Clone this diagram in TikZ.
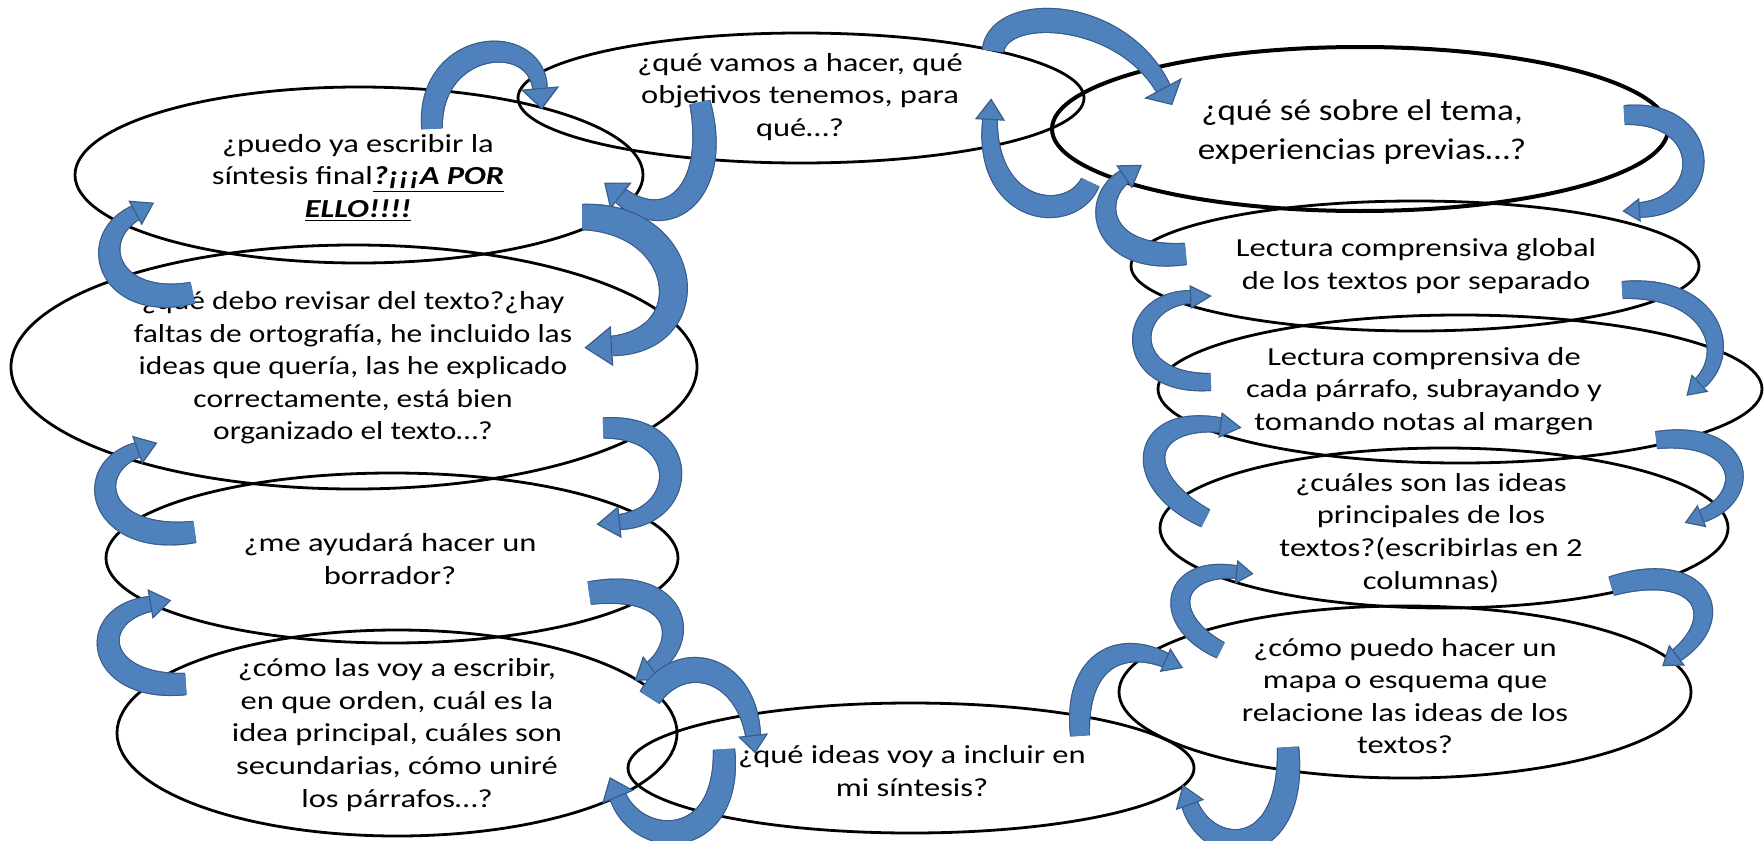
\documentclass[tikz,border=0pt]{standalone}
\usepackage{fontspec}
\setmainfont{Carlito}
\newfontfamily\wideA{Carlito}[FakeStretch=1.25]
\newfontfamily\wideB{Carlito}[FakeStretch=1.21]
\newfontfamily\wideC{Carlito}[FakeStretch=1.17]
\usetikzlibrary{shapes.geometric,calc,decorations.markings}
\definecolor{arrowfill}{HTML}{4F81BD}
\definecolor{arrowline}{HTML}{385D8A}

\tikzset{
  oval/.style 2 args={draw=black, line width=1.4pt, shape=ellipse, inner sep=0pt,
    minimum width=#1pt, minimum height=#2pt},
  txt/.style={align=center, font=\wideA\fontsize{13}{16.3}\selectfont, inner sep=0pt},
  midtxt/.style={align=center, font=\wideB\fontsize{13}{16.3}\selectfont, inner sep=0pt},
  bigtxt/.style={align=center, font=\wideC\fontsize{15}{19.7}\selectfont, inner sep=0pt},
  % one pass of a band along the path, tapering from tail to end and swelling
  % in the middle: colour, tail half-width, end half-width, extra on the rim (pt)
  shaftpass/.style n args={4}{
    postaction={decorate, decoration={markings, reset marks,
      mark=between positions 0 and 1 step 0.45pt with {%
        \pgfmathsetmacro\pos{(\pgfkeysvalueof{/pgf/decoration/mark info/distance from start})/(\pgfdecoratedpathlength)}%
        \pgfmathsetmacro\hw{((#2)+((#3)-(#2))*\pos)*(1+0.3*sin(180*\pos))+(#4)}%
        \fill[#1] (-0.45pt,-\hw pt) rectangle (0.45pt,\hw pt);}}}},
  % curved block arrow body: tail half-width, end half-width (pt)
  bent/.style 2 args={
    shaftpass={arrowline}{#1}{#2}{0.6},
    shaftpass={arrowfill}{#1}{#2}{0}},
  % arrow head sitting on the end of the curve: base width, length (pt)
  headtip/.style 2 args={shape=isosceles triangle, isosceles triangle stretches,
    fill=arrowfill, draw=arrowline, line width=0.6pt, line join=miter, inner sep=0pt,
    minimum width=#1pt, minimum height=#2pt,
    pos=1, sloped, allow upside down, anchor=west}
}

\begin{document}
\begin{tikzpicture}[x=0.5pt, y=-0.5pt]
\useasboundingbox (0,0) rectangle (1764,840);

% ---- ellipses ----
\node[oval={283}{65}] (e1) at (801,98) {};
\node[oval={308}{82}, line width=2pt] (e2) at (1360,129) {};
\node[oval={284}{88}] (e3) at (359,175) {};
\node[oval={343}{122}] (e4) at (354,367) {};
\node[oval={286}{85}] (e5) at (392,558) {};
\node[oval={280}{103}] (e6) at (397,733) {};
\node[oval={283}{65}] (e7) at (911,768) {};
\node[oval={284}{65}] (e8) at (1415,266) {};
\node[oval={302}{74}] (e9) at (1460,389) {};
\node[oval={284}{80}] (e10) at (1444,528) {};
\node[oval={286}{86}] (e11) at (1405,692) {};

% ---- texts ----
\node[txt] (t1) at ($(e1.center)+(-1,-1)$) {¿qué vamos a hacer, qué\\objetivos tenemos, para\\qué…?};
\node[bigtxt] (t2) at ($(e2.center)+(2,3)$) {¿qué sé sobre el tema,\\experiencias previas…?};
\node[txt] (t3) at ($(e3.center)+(-1,3)$) {¿puedo ya escribir la\\síntesis final\underline{\textbf{\textit{?¡¡¡A POR}}}\\\underline{\textbf{\textit{ELLO!!!!}}}};
\node[midtxt] (t4) at ($(e4.center)+(-1,1)$) {¿qué debo revisar del texto?¿hay\\faltas de ortografía, he incluido las\\ideas que quería, las he explicado\\correctamente, está bien\\organizado el texto…?};
\node[txt] (t5) at ($(e5.center)+(-2,1)$) {¿me ayudará hacer un\\borrador?};
\node[txt] (t6) at ($(e6.center)+(0,2)$) {¿cómo las voy a escribir,\\en que orden, cuál es la\\idea principal, cuáles son\\secundarias, cómo uniré\\los párrafos…?};
\node[txt] (t7) at ($(e7.center)+(1,3)$) {¿qué ideas voy a incluir en\\mi síntesis?};
\node[txt] (t8) at ($(e8.center)+(1,0)$) {Lectura comprensiva global\\de los textos por separado};
\node[txt] (t9) at ($(e9.center)+(-36,2)$) {Lectura comprensiva de\\cada párrafo, subrayando y\\tomando notas al margen};
\node[txt] (t10) at ($(e10.center)+(-13,5)$) {¿cuáles son las ideas\\principales de los\\textos?(escribirlas en 2\\columnas)};
\node[txt] (t11) at ($(e11.center)+(0,4)$) {¿cómo puedo hacer un\\mapa o esquema que\\relacione las ideas de los\\textos?};

% ---- curved arrows ----
\path[bent={4.8}{3.3}] ($(e3.center)+(73,-47)$)   .. controls +(-4,-88) and +(-5,-58) .. ($(e1.center)+(-261,-10)$) node[headtip={18}{10}] (h1) {};
\path[bent={4.8}{3.8}] ($(e1.center)+(-101,5)$)   .. controls +(20,87)  and +(49,39)  .. ($(e3.center)+(262,21)$)   node[headtip={16}{10}] (h2) {};
\path[bent={6}{4.5}]   ($(e3.center)+(224,42)$)   .. controls +(107,1)  and +(93,-6)  .. ($(e4.center)+(258,-21)$)  node[headtip={19}{13}] (h3) {};
\path[bent={5}{3.5}]   ($(e4.center)+(-162,-74)$) .. controls +(-82,17) and +(-50,27) .. ($(e3.center)+(-224,38)$)  node[headtip={13}{10}] (h4) {};
\path[bent={4.7}{3.4}] ($(e4.center)+(250,61)$)   .. controls +(86,-3)  and +(70,-7)  .. ($(e5.center)+(228,-36)$)  node[headtip={15}{11}] (h5) {};
\path[bent={5}{3.4}]   ($(e5.center)+(-198,-26)$) .. controls +(-94,13) and +(-57,20) .. ($(e4.center)+(-217,83)$)  node[headtip={14}{10}] (h6) {};
\path[bent={5.3}{3.4}] ($(e5.center)+(198,35)$)   .. controls +(90,-13) and +(38,-28) .. ($(e6.center)+(255,-65)$)  node[headtip={14}{10}] (h7) {};
\path[bent={5}{3.4}]   ($(e6.center)+(-212,-49)$) .. controls +(-90,6)  and +(-65,11) .. ($(e5.center)+(-242,46)$)  node[headtip={14}{10}] (h8) {};
\path[bent={5.3}{3.4}] ($(e6.center)+(253,-36)$)  .. controls +(30,-47) and +(-8,-70) .. ($(e7.center)+(-158,-33)$) node[headtip={14}{8.5}] (h9) {};
\path[bent={5}{3.8}]   ($(e7.center)+(-187,-18)$) .. controls +(6,100)  and +(22,53)  .. ($(e6.center)+(221,64)$)   node[headtip={16}{10}] (h10) {};
\path[bent={4.4}{3.3}] ($(e7.center)+(169,-33)$)  .. controls +(-5,-75) and +(-45,-20) .. ($(e11.center)+(-240,-32)$) node[headtip={12}{9}] (h11) {};
\path[bent={5}{3.8}]   ($(e11.center)+(-117,56)$) .. controls +(7,112)  and +(20,55)  .. ($(e7.center)+(279,37)$)   node[headtip={14}{10}] (h12) {};
\path[bent={3.9}{2.8}] ($(e11.center)+(-185,-42)$).. controls +(-60,-30) and +(-66,-7) .. ($(e10.center)+(-208,44)$) node[headtip={11}{8}] (h13) {};
\path[bent={4.4}{3}]   ($(e10.center)+(168,58)$)  .. controls +(88,-26) and +(53,-40) .. ($(e11.center)+(272,-37)$) node[headtip={12}{8.5}] (h14) {};
\path[bent={4.4}{3.3}] ($(e10.center)+(-239,-10)$).. controls +(-75,-38) and +(-80,-10) .. ($(e9.center)+(-240,36)$) node[headtip={12}{10}] (h15) {};
\path[bent={3.9}{2.8}] ($(e9.center)+(197,51)$)   .. controls +(88,-10) and +(53,-21) .. ($(e10.center)+(258,-12)$) node[headtip={11}{8.5}] (h16) {};
\path[bent={3.9}{2.8}] ($(e9.center)+(-250,-7)$)  .. controls +(-90,3)  and +(-65,3)  .. ($(e8.center)+(-225,31)$)  node[headtip={11}{10}] (h17) {};
\path[bent={3.9}{2.8}] ($(e8.center)+(208,24)$)   .. controls +(87,-5)  and +(35,-33) .. ($(e9.center)+(240,-6)$)   node[headtip={11}{8.5}] (h18) {};
\path[bent={5}{3.3}]   ($(e8.center)+(-230,-12)$) .. controls +(-85,8)  and +(-34,23) .. ($(e2.center)+(-236,48)$)  node[headtip={13}{10}] (h19) {};
\path[bent={4.4}{3.3}] ($(e2.center)+(265,-14)$)  .. controls +(87,-5)  and +(75,-5)  .. ($(e8.center)+(225,-56)$)  node[headtip={11}{8}] (h20) {};
\path[bent={4.5}{3.3}] ($(e2.center)+(-270,54)$)  .. controls +(-20,42) and +(-5,95)  .. ($(e1.center)+(189,22)$)   node[headtip={14}{10}] (h21) {};
\path[bent={5}{3.5}]   ($(e1.center)+(192,-48)$)  .. controls +(7,-46)  and +(-43,-80) .. ($(e2.center)+(-197,-41)$) node[headtip={20}{9}] (h22) {};
\end{tikzpicture}
\end{document}
